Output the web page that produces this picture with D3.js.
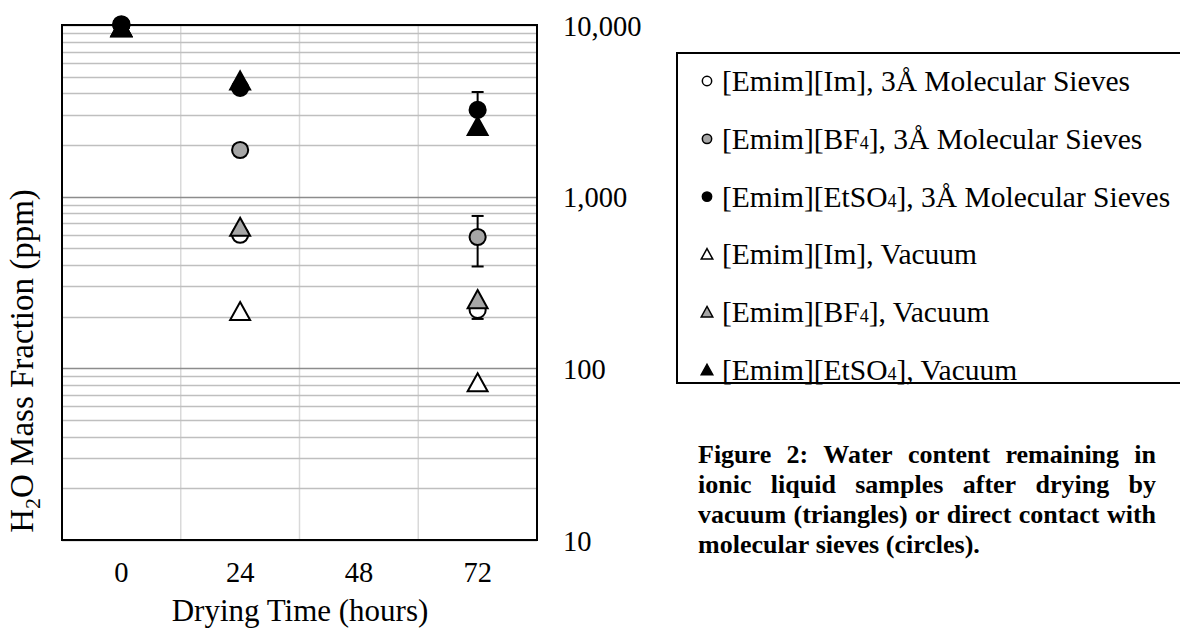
<!DOCTYPE html>
<html>
<head>
<meta charset="utf-8">
<script src="https://cdn.jsdelivr.net/npm/d3@7"></script>
<style>
  body { margin: 0; background: #fff; }
  svg text { font-family: "Liberation Serif", "Times New Roman", serif; }
</style>
</head>
<body>
<svg id="chart" width="1180" height="633"></svg>
<script>
// drying time (hours) at which samples were taken
var times = [0, 24, 72];

// water content (ppm)
var imSieve    = [10000, 600, 219];
var bf4Sieve   = [10000, 1870, 582];
var etso4Sieve = [10100, 4300, 3200];
var imVac      = [9600, 213, 82];
var bf4Vac     = [9600, 660, 250];
var etso4Vac   = [9600, 4700, 2550];

// symmetric error bars (ppm), 0 = none shown
var imSieveErr    = [0, 0, 25];
var bf4SieveErr   = [0, 0, 190];
var etso4SieveErr = [0, 0, 870];

var xTicks = [0, 24, 48, 72];
var yTicks = [10, 100, 1000, 10000];

var captionLines = [
  "Figure 2: Water content remaining in",
  "ionic liquid samples after drying by",
  "vacuum (triangles) or direct contact with",
  "molecular sieves (circles)."
];

var series = [
  {name: ["[Emim][Im], 3Å Molecular Sieves"], shape: "circle", fill: "#fff", values: imSieve, err: imSieveErr},
  {name: ["[Emim][BF", "4", "], 3Å Molecular Sieves"], shape: "circle", fill: "#a6a6a6", values: bf4Sieve, err: bf4SieveErr},
  {name: ["[Emim][EtSO", "4", "], 3Å Molecular Sieves"], shape: "circle", fill: "#000", values: etso4Sieve, err: etso4SieveErr},
  {name: ["[Emim][Im], Vacuum"], shape: "triangle", fill: "#fff", values: imVac},
  {name: ["[Emim][BF", "4", "], Vacuum"], shape: "triangle", fill: "#a6a6a6", values: bf4Vac},
  {name: ["[Emim][EtSO", "4", "], Vacuum"], shape: "triangle", fill: "#000", values: etso4Vac}
];

var svg = d3.select("#chart");
var plot = {left: 62, right: 537, top: 25, bottom: 540};

var x = d3.scaleLinear().domain([-12, 84]).range([plot.left, plot.right]);
var y = d3.scaleLog().domain([10, 10000]).range([plot.bottom, plot.top]);

// vertical gridlines between the time categories
var g = svg.append("g");
g.selectAll("line.vgrid")
  .data([12, 36, 60])
  .enter().append("line")
    .attr("x1", function(d) { return x(d); })
    .attr("x2", function(d) { return x(d); })
    .attr("y1", plot.top).attr("y2", plot.bottom)
    .attr("stroke", "#d9d9d9").attr("stroke-width", 1.5);

// horizontal log gridlines (minor + major)
var hLines = [];
[10, 100, 1000].forEach(function(dec) {
  for (var k = 1; k <= 9; k++) hLines.push(k * dec);
});
hLines.push(10000);
g.selectAll("line.hgrid")
  .data(hLines)
  .enter().append("line")
    .attr("x1", plot.left).attr("x2", plot.right)
    .attr("y1", function(d) { return Math.round(y(d)) + 0.5; })
    .attr("y2", function(d) { return Math.round(y(d)) + 0.5; })
    .attr("stroke", function(d) { return yTicks.includes(d) ? "#8c8c8c" : "#bfbfbf"; })
    .attr("stroke-width", 1.5);

// frame
svg.append("rect")
  .attr("x", plot.left).attr("y", plot.top)
  .attr("width", plot.right - plot.left).attr("height", plot.bottom - plot.top)
  .attr("fill", "none").attr("stroke", "#000").attr("stroke-width", 2);

// x tick labels
svg.selectAll("text.xt")
  .data(xTicks)
  .enter().append("text")
    .attr("x", function(d) { return x(d); })
    .attr("y", 582)
    .attr("text-anchor", "middle")
    .attr("font-size", 28.5)
    .text(function(d) { return d; });

// y tick labels, on the right
svg.selectAll("text.yt")
  .data(yTicks)
  .enter().append("text")
    .attr("x", 563)
    .attr("y", function(d) { return y(d) + 10.5; })
    .attr("font-size", 28.5)
    .text(function(d) { return d3.format(",")(d); });

// axis titles
svg.append("text")
  .attr("x", 300).attr("y", 621)
  .attr("text-anchor", "middle")
  .attr("font-size", 31)
  .text("Drying Time (hours)");

var yt = svg.append("text")
  .attr("transform", "translate(33,361) rotate(-90)")
  .attr("text-anchor", "middle")
  .attr("font-size", 33);
yt.append("tspan").text("H");
yt.append("tspan").attr("font-size", 22).attr("dy", 7).text("2");
yt.append("tspan").attr("dy", -7).text("O Mass Fraction (ppm)");

function marker(sel, shape, size) {
  if (shape === "circle") {
    return sel.append("circle").attr("r", size * 0.85);
  }
  var w = size * 2.1, h = size * 1.9;
  return sel.append("path")
    .attr("d", "M0," + (-h * 0.55) + "L" + (w / 2) + "," + (h * 0.45) + "L" + (-w / 2) + "," + (h * 0.45) + "Z");
}

// error bars and markers, series in order so later ones overlap
series.forEach(function(s) {
  var sg = svg.append("g");
  if (s.err) {
    s.values.forEach(function(v, i) {
      var e = s.err[i];
      if (!e) return;
      var cx = x(times[i]);
      var y0 = y(v + e), y1 = y(Math.max(v - e, 1));
      sg.append("line").attr("x1", cx).attr("x2", cx).attr("y1", y0).attr("y2", y1)
        .attr("stroke", "#000").attr("stroke-width", 2);
      [y0, y1].forEach(function(yy) {
        sg.append("line").attr("x1", cx - 6).attr("x2", cx + 6).attr("y1", yy).attr("y2", yy)
          .attr("stroke", "#000").attr("stroke-width", 2);
      });
    });
  }
  s.values.forEach(function(v, i) {
    var m = sg.append("g").attr("transform", "translate(" + x(times[i]) + "," + y(v) + ")");
    marker(m, s.shape, 9.5)
      .attr("fill", s.fill).attr("stroke", "#000").attr("stroke-width", 2);
  });
});

// legend
var lg = svg.append("g");
lg.append("rect")
  .attr("x", 677).attr("y", 53).attr("width", 520).attr("height", 330)
  .attr("fill", "#fff").attr("stroke", "#000").attr("stroke-width", 2);

series.forEach(function(s, i) {
  var ly = 81 + i * 57.8;
  var m = lg.append("g").attr("transform", "translate(707," + ly + ")");
  marker(m, s.shape, 5.5).attr("fill", s.fill).attr("stroke", "#000").attr("stroke-width", 1.5);
  var t = lg.append("text").attr("x", 722).attr("y", ly + 10).attr("font-size", 29.5);
  s.name.forEach(function(part, j) {
    var sp = t.append("tspan").text(part);
    if (j === 1) sp.attr("font-size", 18);
  });
});

// caption, justified except last line
var capLeft = 698, capRight = 1156;
captionLines.forEach(function(line, li) {
  var ly = 463 + li * 30;
  var words = line.split(" ");
  var nodes = words.map(function(w) {
    return svg.append("text").attr("y", ly).attr("font-size", 26)
      .attr("font-weight", "bold").text(w);
  });
  var widths = nodes.map(function(n) { return n.node().getComputedTextLength(); });
  var total = d3.sum(widths);
  var gap = (li < captionLines.length - 1) ? (capRight - capLeft - total) / (words.length - 1) : 6.5;
  var cx = capLeft;
  nodes.forEach(function(n, k) {
    n.attr("x", cx);
    cx += widths[k] + gap;
  });
});
</script>
</body>
</html>
